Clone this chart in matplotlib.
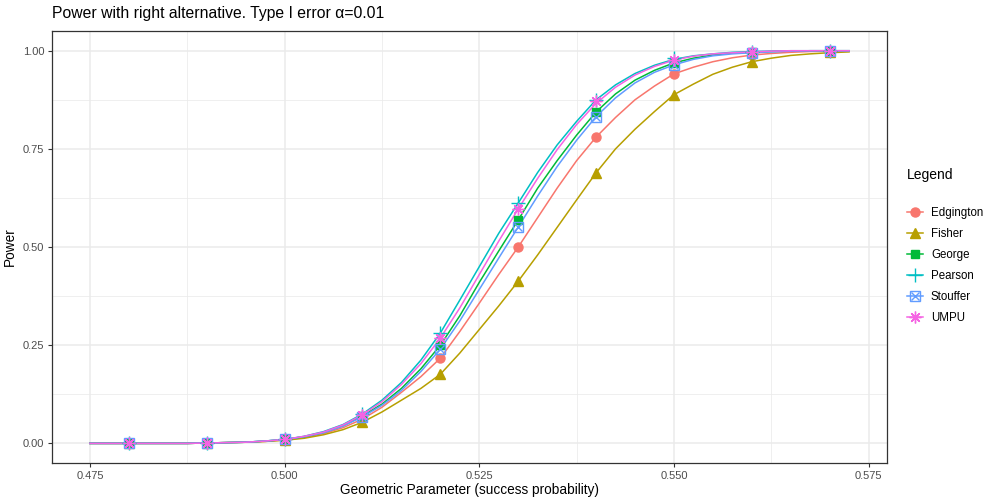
import numpy as np
import matplotlib.pyplot as plt
from matplotlib.lines import Line2D
from matplotlib.legend_handler import HandlerTuple

plt.rcParams['font.family'] = ['Liberation Sans', 'DejaVu Sans']

# curve grid (success probability)
p_line = [0.4750, 0.4775, 0.4800, 0.4825, 0.4850, 0.4875, 0.4900, 0.4925, 0.4950, 0.4975,
          0.5000, 0.5025, 0.5050, 0.5075, 0.5100, 0.5125, 0.5150, 0.5175, 0.5200, 0.5225,
          0.5250, 0.5275, 0.5300, 0.5325, 0.5350, 0.5375, 0.5400, 0.5425, 0.5450, 0.5475,
          0.5500, 0.5525, 0.5550, 0.5575, 0.5600, 0.5625, 0.5650, 0.5675, 0.5700, 0.5725]

edgington_line = [0, 0, 0, 0, 0, 0, 0.001, 0.002, 0.003, 0.005,
                  0.009, 0.015, 0.025, 0.040, 0.062, 0.092, 0.130, 0.170, 0.217, 0.285,
                  0.357, 0.430, 0.500, 0.575, 0.650, 0.720, 0.780, 0.830, 0.875, 0.910,
                  0.941, 0.958, 0.972, 0.982, 0.989, 0.993, 0.996, 0.998, 0.999, 0.9995]
fisher_line = [0, 0, 0, 0, 0, 0, 0.001, 0.002, 0.003, 0.005,
               0.008, 0.013, 0.022, 0.035, 0.054, 0.080, 0.110, 0.140, 0.176, 0.230,
               0.290, 0.350, 0.413, 0.480, 0.550, 0.620, 0.689, 0.750, 0.800, 0.845,
               0.888, 0.915, 0.940, 0.958, 0.972, 0.981, 0.988, 0.992, 0.995, 0.997]
george_line = [0, 0, 0, 0, 0, 0, 0.001, 0.002, 0.003, 0.006,
               0.010, 0.017, 0.028, 0.045, 0.070, 0.100, 0.140, 0.190, 0.250, 0.325,
               0.410, 0.490, 0.569, 0.650, 0.720, 0.785, 0.844, 0.890, 0.925, 0.950,
               0.969, 0.981, 0.989, 0.994, 0.996, 0.998, 0.999, 1.0, 1.0, 1.0]
pearson_line = [0, 0, 0, 0, 0, 0, 0.001, 0.002, 0.003, 0.006,
                0.010, 0.018, 0.030, 0.048, 0.075, 0.110, 0.155, 0.212, 0.281, 0.365,
                0.450, 0.535, 0.612, 0.690, 0.760, 0.820, 0.875, 0.913, 0.942, 0.963,
                0.978, 0.987, 0.992, 0.996, 0.998, 0.999, 1.0, 1.0, 1.0, 1.0]
stouffer_line = [0, 0, 0, 0, 0, 0, 0.001, 0.002, 0.003, 0.006,
                 0.010, 0.017, 0.027, 0.044, 0.068, 0.097, 0.135, 0.183, 0.240, 0.312,
                 0.392, 0.472, 0.551, 0.630, 0.705, 0.772, 0.832, 0.880, 0.918, 0.945,
                 0.964, 0.978, 0.987, 0.992, 0.995, 0.997, 0.999, 1.0, 1.0, 1.0]
umpu_line = [0, 0, 0, 0, 0, 0, 0.001, 0.002, 0.003, 0.006,
             0.010, 0.018, 0.029, 0.047, 0.073, 0.106, 0.150, 0.203, 0.268, 0.345,
             0.430, 0.515, 0.597, 0.675, 0.748, 0.812, 0.866, 0.907, 0.938, 0.960,
             0.976, 0.986, 0.992, 0.995, 0.997, 0.999, 1.0, 1.0, 1.0, 1.0]

# simulated points
p_pts = [0.48, 0.49, 0.50, 0.51, 0.52, 0.53, 0.54, 0.55, 0.56, 0.57]
edgington_pts = [0.0, 0.001, 0.009, 0.062, 0.217, 0.500, 0.780, 0.941, 0.990, 0.999]
fisher_pts = [0.0, 0.001, 0.008, 0.054, 0.176, 0.413, 0.689, 0.888, 0.972, 0.996]
george_pts = [0.0, 0.001, 0.010, 0.070, 0.250, 0.569, 0.844, 0.969, 0.996, 1.0]
pearson_pts = [0.0, 0.001, 0.010, 0.076, 0.281, 0.612, 0.875, 0.982, 0.998, 1.0]
stouffer_pts = [0.0, 0.001, 0.010, 0.068, 0.240, 0.551, 0.832, 0.964, 0.995, 1.0]
umpu_pts = [0.0, 0.001, 0.010, 0.073, 0.268, 0.597, 0.872, 0.977, 0.997, 1.0]

names = ["Edgington", "Fisher", "George", "Pearson", "Stouffer", "UMPU"]
colors = ["#F8766D", "#B79F00", "#00BA38", "#00BFC4", "#619CFF", "#F564E3"]
lines = [edgington_line, fisher_line, george_line, pearson_line, stouffer_line, umpu_line]
pts = [edgington_pts, fisher_pts, george_pts, pearson_pts, stouffer_pts, umpu_pts]

fig = plt.figure(figsize=(9.97, 5.04), dpi=100)
ax = fig.add_axes([0.0522, 0.0813, 0.8375, 0.857])

lw = 1.1
handles = []
for name, col, ly, py in zip(names, colors, lines, pts):
    ax.plot(p_line, ly, color=col, lw=lw, zorder=3)
    if name == "Edgington":
        ax.plot(p_pts, py, "o", color=col, ms=6.5, zorder=4)
        h = Line2D([], [], color=col, lw=lw, marker="o", ms=6.5)
    elif name == "Fisher":
        ax.plot(p_pts, py, "^", color=col, ms=7, zorder=4)
        h = Line2D([], [], color=col, lw=lw, marker="^", ms=7)
    elif name == "George":
        ax.plot(p_pts, py, "s", color=col, ms=6, zorder=4)
        h = Line2D([], [], color=col, lw=lw, marker="s", ms=6)
    elif name == "Pearson":
        ax.plot(p_pts, py, "+", color=col, ms=10, mew=1.0, zorder=4)
        h = Line2D([], [], color=col, lw=lw, marker="+", ms=10, mew=1.0)
    elif name == "Stouffer":
        ax.plot(p_pts, py, "s", color=col, mfc="none", ms=6.5, mew=1.0, zorder=4)
        ax.plot(p_pts, py, "x", color=col, ms=5.5, mew=1.0, zorder=4)
        h = (Line2D([], [], color=col, lw=lw, marker="s", mfc="none", ms=6.5, mew=1.0),
             Line2D([], [], color=col, lw=0, marker="x", ms=5.5, mew=1.0))
    else:
        ax.plot(p_pts, py, marker=(8, 2, 0), ls="none", color=col, ms=8.5, mew=1.0, zorder=4)
        h = Line2D([], [], color=col, lw=lw, marker=(8, 2, 0), ms=8.5, mew=1.0)
    handles.append(h)

ax.set_xlim(0.470125, 0.577375)
ax.set_ylim(-0.05, 1.05)
ax.set_xticks([0.475, 0.500, 0.525, 0.550, 0.575])
ax.set_xticklabels(["0.475", "0.500", "0.525", "0.550", "0.575"])
ax.set_yticks([0, 0.25, 0.5, 0.75, 1.0])
ax.set_yticklabels(["0.00", "0.25", "0.50", "0.75", "1.00"])
ax.set_xticks([0.4875, 0.5125, 0.5375, 0.5625], minor=True)
ax.set_yticks([0.125, 0.375, 0.625, 0.875], minor=True)
ax.grid(True, which="major", color="#EBEBEB", lw=1.1, zorder=0)
ax.grid(True, which="minor", color="#EBEBEB", lw=0.55, zorder=0)
ax.tick_params(which="major", length=3, color="#333333", labelsize=8,
               labelcolor="#4D4D4D", width=0.8, pad=2.5)
ax.tick_params(which="minor", length=0)
for s in ax.spines.values():
    s.set_color("#333333")
    s.set_linewidth(0.9)

ax.set_xlabel("Geometric Parameter (success probability)", fontsize=9.8, labelpad=2)
ax.set_ylabel("Power", fontsize=9.8)
ax.yaxis.set_label_coords(-0.042, 0.5)
fig.text(0.0522, 0.973, "Power with right alternative. Type I error α=0.01",
         fontsize=11.3, ha="left", va="center")

leg = fig.legend(handles, names, loc="upper left", bbox_to_anchor=(0.899, 0.688),
                 frameon=False, title="Legend", fontsize=8.3, title_fontsize=10,
                 handlelength=1.4, labelspacing=0.78, handletextpad=0.7,
                 alignment="left", handler_map={tuple: HandlerTuple(ndivide=1)})
leg._legend_box.sep = 18

fig.savefig("out.png", dpi=100)
